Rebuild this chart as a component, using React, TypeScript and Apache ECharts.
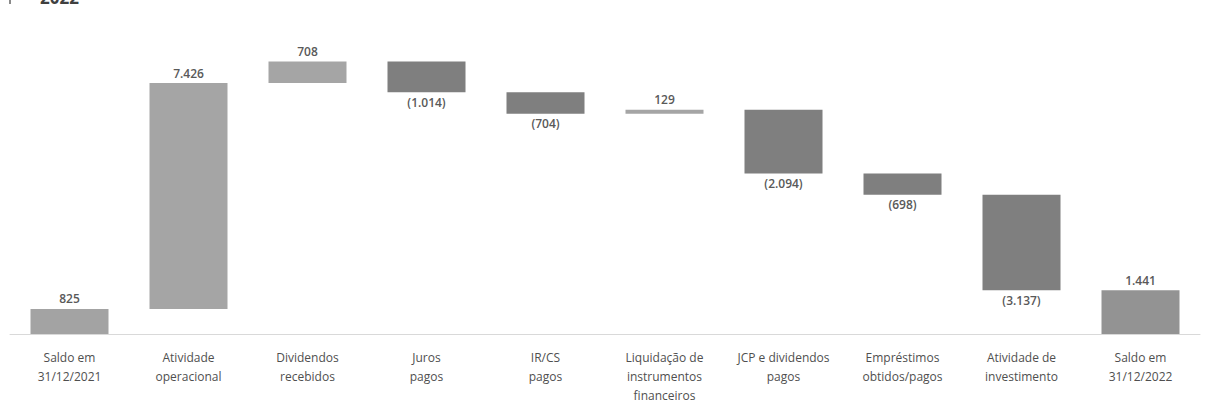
import React, { useEffect, useRef } from "react";
import * as echarts from "echarts";

const categories: string[] = [
  "Saldo em\n31/12/2021",
  "Atividade\noperacional",
  "Dividendos\nrecebidos",
  "Juros\npagos",
  "IR/CS\npagos",
  "Liquidação de\ninstrumentos\nfinanceiros",
  "JCP e dividendos\npagos",
  "Empréstimos\nobtidos/pagos",
  "Atividade de\ninvestimento",
  "Saldo em\n31/12/2022",
];
const values: number[] = [825, 7426, 708, -1014, -704, 129, -2094, -698, -3137, 1441];
const isTotal: boolean[] = [true, false, false, false, false, false, false, false, false, true];
const yMax = 10000;

const fmt = (v: number) => {
  const s = Math.abs(v).toLocaleString("pt-BR");
  return v < 0 ? `(${s})` : s;
};

export default function App() {
  const ref = useRef<HTMLDivElement>(null);
  useEffect(() => {
    if (!ref.current) return;
    const chart = echarts.init(ref.current, undefined, { renderer: "svg" });

    const base: (number | string)[] = [];
    const inc: any[] = [];
    const dec: any[] = [];
    const tot: any[] = [];
    let running = 0;
    values.forEach((v, i) => {
      if (isTotal[i]) {
        running = v;
        base.push(0);
        inc.push("-");
        dec.push("-");
        tot.push({
          value: v,
          itemStyle: { color: i === 0 ? "#A3A3A3" : "#939393" },
        });
      } else if (v >= 0) {
        base.push(running);
        running += v;
        inc.push(v);
        dec.push("-");
        tot.push("-");
      } else {
        running += v;
        base.push(running);
        dec.push(-v);
        inc.push("-");
        tot.push("-");
      }
    });

    const labelFont = {
      fontFamily: "Open Sans",
      fontSize: 12,
      fontWeight: 600 as any,
      color: "#595959",
    };

    chart.setOption({
      animation: false,
      grid: { left: 10, right: 10, top: 29.8, bottom: 66, containLabel: false },
      graphic: [
        {
          type: "text",
          left: 40,
          top: -11,
          style: {
            text: "2022",
            font: "bold 17px 'Open Sans'",
            fill: "#404040",
          },
        },
        {
          type: "rect",
          shape: { x: 9, y: 0, width: 2, height: 4 },
          style: { fill: "#8a8a8a" },
        },
      ],
      xAxis: {
        type: "category",
        data: categories,
        axisLine: { lineStyle: { color: "#D9D9D9", width: 1 } },
        axisTick: { show: false },
        axisLabel: {
          interval: 0,
          margin: 14,
          fontFamily: "Open Sans",
          fontSize: 12,
          color: "#4f4f4f",
          lineHeight: 19,
        },
      },
      yAxis: {
        type: "value",
        min: 0,
        max: yMax,
        show: false,
        splitLine: { show: false },
      },
      series: [
        {
          name: "base",
          type: "bar",
          stack: "w",
          barWidth: 78,
          itemStyle: { color: "transparent" },
          emphasis: { disabled: true },
          data: base,
        },
        {
          name: "inc",
          type: "bar",
          stack: "w",
          barWidth: 78,
          itemStyle: { color: "#A5A5A5" },
          label: {
            show: true,
            position: "top",
            distance: 4,
            formatter: (p: any) => fmt(p.value),
            ...labelFont,
          },
          data: inc,
        },
        {
          name: "dec",
          type: "bar",
          stack: "w",
          barWidth: 78,
          itemStyle: { color: "#7F7F7F" },
          label: {
            show: true,
            position: "bottom",
            distance: 4,
            formatter: (p: any) => fmt(-p.value),
            ...labelFont,
          },
          data: dec,
        },
        {
          name: "tot",
          type: "bar",
          stack: "w",
          barWidth: 78,
          label: {
            show: true,
            position: "top",
            distance: 4,
            formatter: (p: any) => fmt(p.value),
            ...labelFont,
          },
          data: tot,
        },
      ],
    });
    return () => chart.dispose();
  }, []);

  return (
    <div
      ref={ref}
      style={{ position: "absolute", left: 0, top: 0, width: 1210, height: 405 }}
    />
  );
}
